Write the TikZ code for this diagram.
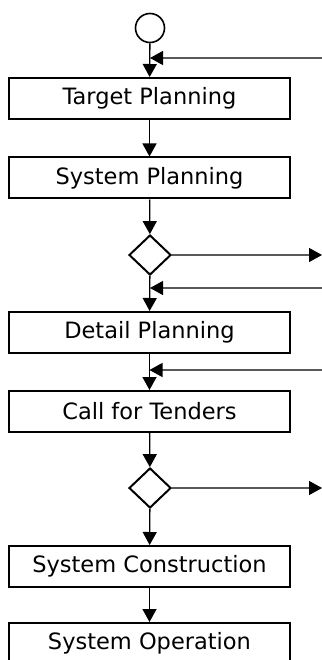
\documentclass[tikz,border=0pt]{standalone}
\usepackage{fontspec}
\setmainfont{DejaVu Sans}
\usetikzlibrary{arrows.meta,shapes.geometric}
\begin{document}
\begin{tikzpicture}[x=1pt,y=1pt,
  stepbox/.style={draw,line width=2pt,minimum width=281pt,minimum height=41pt,inner sep=0pt,font=\fontsize{22.5}{26}\selectfont},
  decide/.style={draw,line width=2pt,diamond,minimum width=42pt,minimum height=40pt,inner sep=0pt},
  flow/.style={line width=1.3pt,-{Triangle[length=13pt,width=14pt]}},
  side/.style={line width=1.3pt,draw=black!65,-{Triangle[length=13pt,width=14pt,fill=black,color=black]}}]
\useasboundingbox (0,0) rectangle (321,-660);
\node[draw,circle,line width=1.6pt,minimum size=29pt,inner sep=0pt] (start) at (150,-28) {};
\node[stepbox] (tp) at (149.5,-98.5) {Target Planning};
\node[stepbox] (sp) at (149.5,-178) {System Planning};
\node[decide] (d1) at (150,-255) {};
\node[stepbox] (dp) at (149.5,-332.5) {Detail Planning};
\node[stepbox] (ct) at (149.5,-411.5) {Call for Tenders};
\node[decide] (d2) at (150,-488) {};
\node[stepbox] (cs) at (149.5,-566.5) {System Construction};
\node[stepbox] (so) at (149.5,-643.5) {System Operation};
\coordinate (fb1) at (322,-58);
\coordinate (fb2) at (322,-288);
\coordinate (fb3) at (322,-370);
\coordinate (out1) at (322,-255);
\coordinate (out2) at (322,-488);
\draw[flow] (start) -- (tp);
\draw[flow] (tp) -- (sp);
\draw[flow] (sp) -- (d1);
\draw[flow] (d1) -- (dp);
\draw[flow] (dp) -- (ct);
\draw[flow] (ct) -- (d2);
\draw[flow] (d2) -- (cs);
\draw[flow] (cs) -- (so);
\draw[side] (fb1) -- (fb1 -| start);
\draw[side] (fb2) -- (fb2 -| d1);
\draw[side] (fb3) -- (fb3 -| dp);
\draw[side] (d1) -- (out1);
\draw[side] (d2) -- (out2);
\end{tikzpicture}
\end{document}
